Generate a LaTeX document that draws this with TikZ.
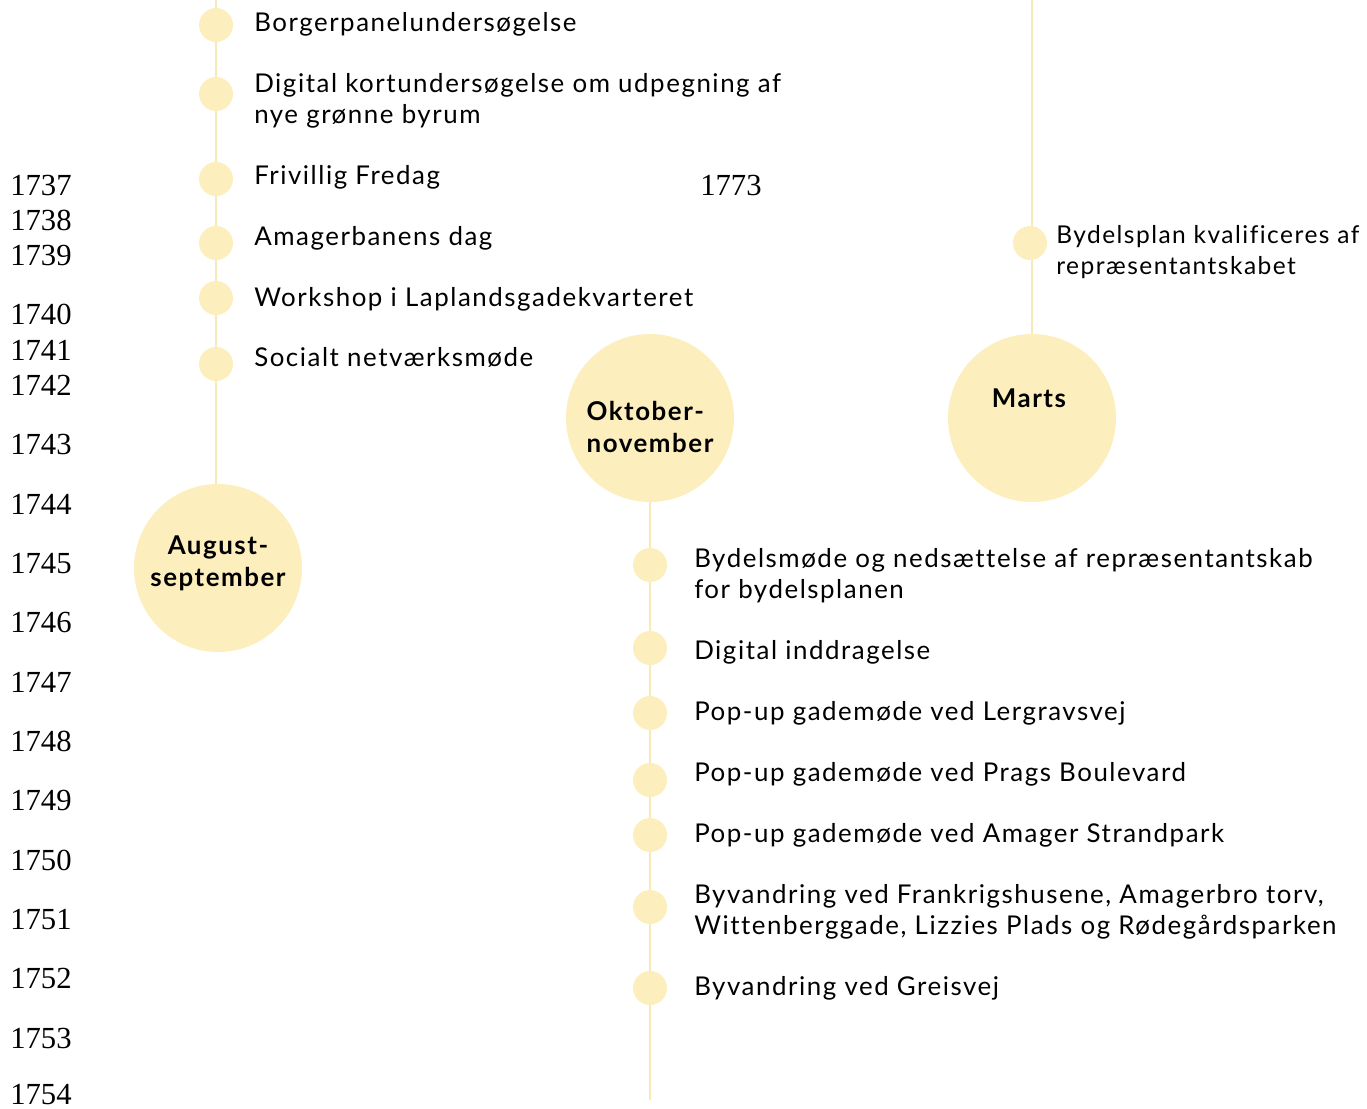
\documentclass[tikz,border=0pt]{standalone}
\usepackage{fontspec}
\setmainfont[LetterSpace=6, Ligatures=NoCommon]{Lato}
\newfontfamily\linenofont{Liberation Serif}
\usetikzlibrary{positioning}
\definecolor{pale}{RGB}{252,238,189}
\definecolor{paleline}{RGB}{247,234,182}
\tikzset{x=0.75pt, y=-0.75pt, % one unit is one pixel, y runs down
every node/.style={inner sep=0pt},
dot/.style={ % small marker on a timeline
circle, fill=pale, minimum size=25.5pt},
month/.style={ % big circle for a period
circle, fill=pale, minimum size=126pt},
monthtext/.style={font=\fontsize{19.4}{24}\selectfont\bfseries},
event/.style={ % text next to a marker, placed at its last baseline
anchor=base west, align=left,
font=\fontsize{19.4}{23.25}\selectfont},
lineno/.style={anchor=base west, font=\linenofont\fontsize{23}{23}\selectfont},
timeline/.style={draw=paleline, line width=1.5pt}}

\begin{document}
\begin{tikzpicture}
\useasboundingbox (0,0) rectangle (1367,1108);

% line numbers
\node[lineno] (n1737) at (10,195) {1737};
\node[lineno] (n1738) at (10,230) {1738};
\node[lineno] (n1739) at (10,265) {1739};
\node[lineno] (n1740) at (10,324) {1740};
\node[lineno] (n1741) at (10,360) {1741};
\node[lineno] (n1742) at (10,395) {1742};
\node[lineno] (n1743) at (10,454) {1743};
\node[lineno] (n1744) at (10,514) {1744};
\node[lineno] (n1745) at (10,573) {1745};
\node[lineno] (n1746) at (10,632) {1746};
\node[lineno] (n1747) at (10,692) {1747};
\node[lineno] (n1748) at (10,751) {1748};
\node[lineno] (n1749) at (10,810) {1749};
\node[lineno] (n1750) at (10,870) {1750};
\node[lineno] (n1751) at (10,929) {1751};
\node[lineno] (n1752) at (10,988) {1752};
\node[lineno] (n1753) at (10,1048) {1753};
\node[lineno] (n1754) at (10,1104) {1754};
\node[lineno] (n1773) at (700,195) {1773};

% periods
\node[month] (aug) at (218,568) {};
\node[month] (okt) at (650,418) {};
\node[month] (marts) at (1032,418) {};
\node[monthtext, align=center] (augtext) at (218,563) {August-\\september};
\node[monthtext, align=left] (okttext) at (650,427) {Oktober-\\november};
\node[monthtext] (martstext) at (1029,398) {Marts};

% timelines
\coordinate (topleft) at (216,0);
\coordinate (botmid) at (650,1100);
\coordinate (topright) at (1032,0);
\draw[timeline] (topleft) -- (topleft |- aug.north);
\draw[timeline] (okt) -- (botmid);
\draw[timeline] (topright) -- (marts);

% august-september
\node[dot] (a1) at (216,25) {};
\node[dot] (a2) at (216,94) {};
\node[dot] (a3) at (216,179) {};
\node[dot] (a4) at (216,243) {};
\node[dot] (a5) at (216,298) {};
\node[dot] (a6) at (216,364) {};
\node[event] (ta1) at (254,31) {Borgerpanelundersøgelse};
\node[event] (ta2) at (254,123) {Digital kortundersøgelse om udpegning af\\nye grønne byrum};
\node[event] (ta3) at (254,184) {Frivillig Fredag};
\node[event] (ta4) at (254,245) {Amagerbanens dag};
\node[event] (ta5) at (254,306) {Workshop i Laplandsgadekvarteret};
\node[event] (ta6) at (254,366) {Socialt netværksmøde};

% oktober-november
\node[dot] (o1) at (650,565) {};
\node[dot] (o2) at (650,648) {};
\node[dot] (o3) at (650,713) {};
\node[dot] (o4) at (650,780) {};
\node[dot] (o5) at (650,835) {};
\node[dot] (o6) at (650,907) {};
\node[dot] (o7) at (650,988) {};
\node[event] (to1) at (694,598) {Bydelsmøde og nedsættelse af repræsentantskab\\for bydelsplanen};
\node[event] (to2) at (694,659) {Digital inddragelse};
\node[event] (to3) at (694,720) {Pop-up gademøde ved Lergravsvej};
\node[event] (to4) at (694,781) {Pop-up gademøde ved Prags Boulevard};
\node[event] (to5) at (694,842) {Pop-up gademøde ved Amager Strandpark};
\node[event] (to6) at (694,934) {Byvandring ved Frankrigshusene, Amagerbro torv,\\Wittenberggade, Lizzies Plads og Rødegårdsparken};
\node[event] (to7) at (694,995) {Byvandring ved Greisvej};

% marts
\node[dot] (m1) at (1030,243) {};
\node[event, font=\fontsize{18.4}{23.25}\selectfont] (tm1) at (1056,274) {Bydelsplan kvalificeres af\\repræsentantskabet};
\end{tikzpicture}
\end{document}
